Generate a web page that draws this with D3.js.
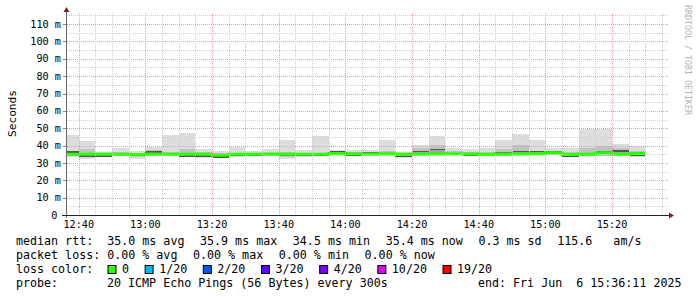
<!DOCTYPE html>
<html><head><meta charset="utf-8">
<script src="https://cdn.jsdelivr.net/npm/d3@7"></script>
<style>
body{margin:0;background:#fff}
text{font-family:"DejaVu Sans Mono",monospace;white-space:pre;fill:#000}
</style>
</head><body>
<svg id="c" width="697" height="297" xmlns="http://www.w3.org/2000/svg"></svg>
<script>
// ---- data (5-minute steps, bar end times) ----
const barEnds = ["12:40","12:45","12:50","12:55","13:00","13:05","13:10","13:15","13:20","13:25","13:30","13:35",
  "13:40","13:45","13:50","13:55","14:00","14:05","14:10","14:15","14:20","14:25","14:30","14:35",
  "14:40","14:45","14:50","14:55","15:00","15:05","15:10","15:15","15:20","15:25","15:30"];
const maxRtt = [46.0,42.6,36.2,38.6,36.9,39.2,46.0,47.4,38.0,36.9,39.0,37.0,38.0,43.0,37.3,45.7,37.4,37.3,
  37.6,43.4,36.3,40.5,45.7,38.6,38.2,38.6,43.2,46.8,43.2,38.7,38.8,49.5,49.5,40.9,39.9];
const hiRtt = [37.0,38.0,35.8,36.5,35.8,37.5,36.5,37.8,36.5,35.8,36.0,35.5,35.8,36.5,36.0,36.0,36.8,36.5,
  36.5,37.0,35.9,38.8,40.5,37.0,36.5,36.2,37.8,40.5,37.0,37.0,36.5,38.5,40.0,38.5,37.0];
const denseRtt = [36.2,34.0,34.0,35.5,34.5,36.4,35.5,34.0,34.0,33.3,34.5,34.2,35.0,34.2,34.2,34.6,36.2,34.7,
  35.8,34.8,33.8,36.5,37.8,35.5,34.5,34.5,35.8,36.5,36.3,36.2,33.8,35.3,36.5,37.0,34.3];
const loRtt = [34.0,33.5,33.8,34.2,33.5,34.2,34.3,33.8,33.2,33.0,33.8,34.0,34.2,33.5,33.8,34.0,34.3,34.2,
  34.5,34.4,33.5,34.3,34.5,34.7,34.3,34.2,34.2,34.3,34.6,34.8,33.6,34.2,34.2,34.8,34.0];
const minRtt = [33.5,32.5,33.5,33.8,32.5,33.8,34.0,33.5,32.8,32.6,33.5,33.8,34.0,32.5,33.5,33.8,34.0,34.0,
  34.2,34.0,32.8,34.0,34.2,34.3,34.0,34.0,34.0,33.8,34.2,34.3,33.2,33.8,33.8,34.2,33.5];
const medianRtt = [35.0,35.0,35.0,35.0,34.9,35.2,35.0,35.0,35.0,34.5,35.0,35.0,35.2,35.0,35.0,35.0,35.5,35.3,
  35.2,35.3,35.0,35.2,35.3,35.3,35.2,34.8,35.2,35.3,35.4,35.8,34.9,35.0,35.9,35.0,35.4];
const yTicks = [0,10,20,30,40,50,60,70,80,90,100,110];
const rttStatValues = [35.0,35.9,34.5,35.4];
const rttStatNames = ["avg","max","min","now"];
const rttSd = 0.3, amPerS = 115.6;
const lossStatValues = [0,0,0,0];
const lossLabels = ["0","1/20","2/20","3/20","4/20","10/20","19/20"];
const lossColors = ["#26ff00","#00b8ff","#0059ff","#5e00ff","#7e00ff","#dd00ff","#ff0000"];
const probeText = "20 ICMP Echo Pings (56 Bytes) every 300s";
const endText = "end: Fri Jun  6 15:36:11 2025";

// ---- setup ----
const T = s => { const [h,m,sec] = s.split(":").map(Number); return new Date(2025,5,6,h,m,sec||0); };
const svg = d3.select("#c");
const X0 = 66, X1 = 666, Y0 = 215, YT = 13;
const x = d3.scaleTime().domain([T("12:36:11"), T("15:36:11")]).range([X0, X1]);
const y = d3.scaleLinear().domain([0, 116.4]).range([Y0, YT]);

svg.append("rect").attr("width",697).attr("height",297).attr("fill","#fff");
svg.append("defs").append("clipPath").attr("id","pc").append("rect")
  .attr("x",X0+1).attr("y",YT).attr("width",668-X0-1).attr("height",Y0-YT);

const bars = barEnds.map((e,i) => {
  const end = T(e); const start = new Date(+end - 5*60000);
  return {start,end,max:maxRtt[i],hi:hiRtt[i],dense:denseRtt[i],lo:loRtt[i],min:minRtt[i],med:medianRtt[i]};
});
const g = svg.append("g").attr("clip-path","url(#pc)");
function band(lo, hi, color) {
  g.append("g").selectAll("rect").data(bars).join("rect")
    .attr("x", d => x(d.start)).attr("width", d => x(d.end)-x(d.start))
    .attr("y", d => y(hi(d))).attr("height", d => Math.max(0, y(lo(d))-y(hi(d))))
    .attr("fill", color).attr("shape-rendering","crispEdges");
}
band(d=>d.min, d=>d.max, "#dddddd");
band(d=>d.lo, d=>d.hi, "#c2c2c2");
band(d=>Math.min(d.dense,d.med)-0.3, d=>Math.max(d.dense,d.med)+0.3, "#a6a6a6");
band(d=>d.dense-0.45, d=>d.dense+0.45, "#555555");

// ---- grid (drawn over smoke) ----
const grid = svg.append("g");
d3.range(5,116,5).forEach(v => {
  const yy = Math.round(y(v))+0.5;
  grid.append("line").attr("x1",X0+1).attr("x2",669).attr("y1",yy).attr("y2",yy)
    .attr("stroke", v%10===0 ? "#e8a0a0" : "#cfcfcf").attr("stroke-dasharray","1,1");
});
x.ticks(d3.timeMinute.every(5)).forEach(t => {
  const xx = Math.round(x(t))+0.5;
  const major = t.getMinutes()%20===0;
  grid.append("line").attr("x1",xx).attr("x2",xx).attr("y1",YT).attr("y2",Y0)
    .attr("stroke", major ? "#e8a0a0" : "#cfcfcf").attr("stroke-dasharray","1,1");
});

// ---- median line ----
const pts = bars.map(d => [x(d.start), y(d.med)]);
pts.push([x(bars[bars.length-1].end), y(bars[bars.length-1].med)]);
g.append("path").attr("d", d3.line().curve(d3.curveStepAfter)(pts))
  .attr("fill","none").attr("stroke",lossColors[0]).attr("stroke-width",3);

// ---- axes ----
const ax = svg.append("g");
ax.append("line").attr("x1",X0+0.5).attr("x2",X0+0.5).attr("y1",218).attr("y2",10)
  .attr("stroke","#6a6a6a");
ax.append("line").attr("x1",62).attr("x2",670).attr("y1",Y0+0.5).attr("y2",Y0+0.5)
  .attr("stroke","#222");
ax.append("path").attr("d",`M${X0+0.5},7 L${X0-2.5},12 L${X0+3.5},12 Z`).attr("fill","#7f1f1f");
ax.append("path").attr("d",`M674,${Y0+0.5} L669,${Y0-2.5} L669,${Y0+3.5} Z`).attr("fill","#7f1f1f");
yTicks.forEach(v => {
  const yy = Math.round(y(v))+0.5;
  if (v>0) ax.append("line").attr("x1",63).attr("x2",X0).attr("y1",yy).attr("y2",yy).attr("stroke","#888");
  ax.append("text").attr("x", v===0 ? 57.5 : 61).attr("y", y(v)+3.6)
    .attr("text-anchor","end").attr("font-size","10.2px").text(v===0 ? "0" : v+" m");
});
x.ticks(d3.timeMinute.every(20)).forEach(t => {
  ax.append("text").attr("x", x(t)).attr("y", 228).attr("text-anchor","middle")
    .attr("font-size","10.2px").text(d3.timeFormat("%H:%M")(t));
});
svg.append("text").attr("transform","translate(15.5,113.5) rotate(-90)").attr("text-anchor","middle")
  .attr("font-size","11.2px").text("Seconds");
svg.append("text").attr("transform","translate(685,5) rotate(90)").attr("font-size","8.3px")
  .attr("fill","#b4b4b4").style("fill","#b4b4b4").text("RRDTOOL / TOBI OETIKER");

// ---- legend ----
const FS = "11.67px", GAP = 15.6;
function row(items, yb) {
  let xx = 16;
  items.forEach(s => {
    const t = svg.append("text").attr("x",xx).attr("y",yb).attr("font-size",FS).text(s);
    xx += t.node().getComputedTextLength() + GAP;
  });
}
const rttItems = rttStatValues.map((v,i) => `${v.toFixed(1)} ms ${rttStatNames[i]}`);
rttItems[0] = "median rtt:  " + rttItems[0];
rttItems.push(`${rttSd.toFixed(1)} ms sd`, `${amPerS.toFixed(1)}   am/s`);
row(rttItems, 245);
const lossItems = lossStatValues.map((v,i) => `${v.toFixed(2)} % ${rttStatNames[i]}`);
lossItems[0] = "packet loss: " + lossItems[0];
row(lossItems, 259);
svg.append("text").attr("x",16).attr("y",273).attr("font-size",FS).text("loss color:");
let lx = 107.5;
lossLabels.forEach((l,i) => {
  svg.append("rect").attr("x",lx+0.5).attr("y",265.5).attr("width",8).attr("height",8)
    .attr("fill",lossColors[i]).attr("stroke","#000").attr("stroke-width",1);
  const t = svg.append("text").attr("x",lx+14.5).attr("y",273).attr("font-size",FS).text(l);
  lx = lx + 14.5 + t.node().getComputedTextLength() + GAP;
});
svg.append("text").attr("x",16).attr("y",287).attr("font-size",FS).text("probe:");
svg.append("text").attr("x",107).attr("y",287).attr("font-size",FS).text(probeText);
svg.append("text").attr("x",681.5).attr("y",287).attr("text-anchor","end").attr("font-size",FS).text(endText);
</script>
</body></html>
